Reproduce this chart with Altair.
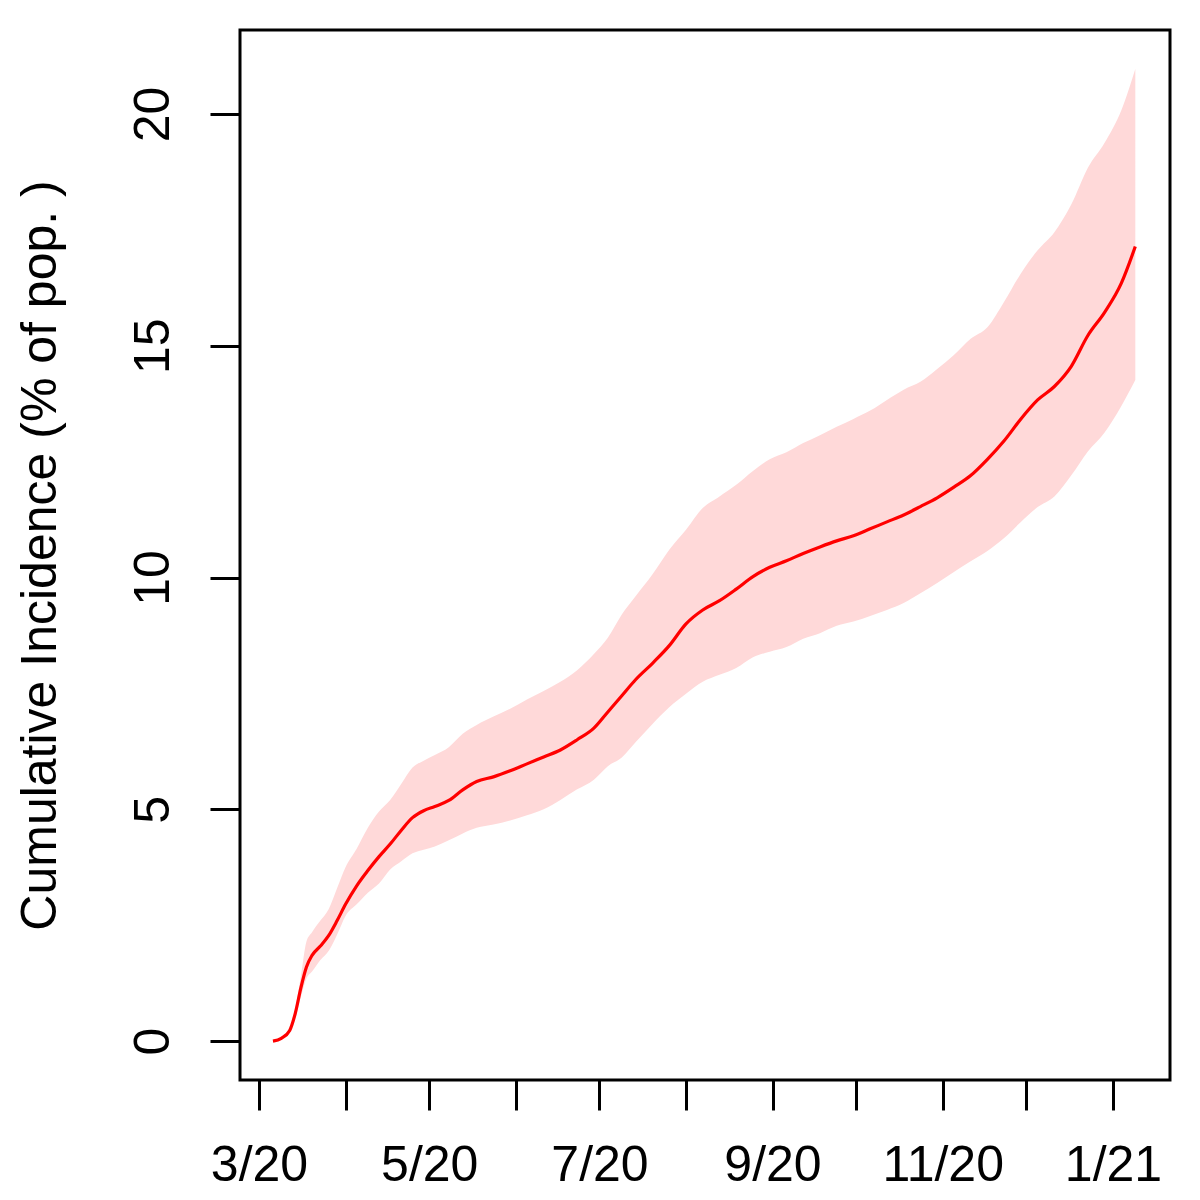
import altair as alt
import pandas as pd

# days since 2020-03-01
days = [5, 8, 11, 13, 15, 17, 19, 22, 25, 28, 31, 35, 39, 43, 47, 51, 55, 59, 63, 68,
        73, 78, 84, 90, 96, 102, 108, 114, 120, 125, 130, 135, 141, 147, 153, 159, 165,
        171, 177, 183, 189, 195, 201, 207, 213, 219, 225, 231, 237, 243, 249, 255, 261,
        267, 273, 279, 285, 291, 297, 303, 309, 314]
mean = [0.0, 0.06, 0.23, 0.6, 1.15, 1.6, 1.85, 2.05, 2.28, 2.6, 2.95, 3.35, 3.68, 3.98,
        4.25, 4.55, 4.82, 4.97, 5.06, 5.19, 5.42, 5.6, 5.7, 5.83, 5.98, 6.13, 6.28, 6.5,
        6.75, 7.1, 7.45, 7.8, 8.15, 8.53, 9.0, 9.3, 9.5, 9.75, 10.02, 10.22, 10.36, 10.52,
        10.66, 10.79, 10.9, 11.05, 11.2, 11.35, 11.53, 11.72, 11.95, 12.2, 12.55, 12.95,
        13.42, 13.83, 14.12, 14.55, 15.22, 15.72, 16.35, 17.14]
lower = [0.0, 0.05, 0.2, 0.5, 0.95, 1.35, 1.5, 1.75, 1.95, 2.3, 2.7, 2.95, 3.2, 3.4,
         3.7, 3.88, 4.05, 4.13, 4.2, 4.33, 4.48, 4.6, 4.67, 4.76, 4.87, 5.0, 5.2, 5.43,
         5.64, 5.93, 6.12, 6.45, 6.84, 7.2, 7.49, 7.75, 7.9, 8.05, 8.28, 8.4, 8.5, 8.68,
         8.8, 8.96, 9.05, 9.17, 9.3, 9.45, 9.66, 9.88, 10.12, 10.35, 10.57, 10.85, 11.2,
         11.52, 11.75, 12.2, 12.72, 13.13, 13.7, 14.26]
upper = [0.0, 0.08, 0.27, 0.7, 1.4, 2.15, 2.35, 2.6, 2.85, 3.3, 3.75, 4.15, 4.6, 4.95,
         5.2, 5.55, 5.9, 6.05, 6.17, 6.34, 6.63, 6.82, 7.0, 7.17, 7.37, 7.55, 7.75, 8.0,
         8.35, 8.7, 9.2, 9.6, 10.07, 10.6, 11.03, 11.5, 11.75, 12.0, 12.3, 12.55, 12.7,
         12.9, 13.07, 13.25, 13.42, 13.6, 13.83, 14.05, 14.22, 14.5, 14.8, 15.15, 15.4,
         15.95, 16.56, 17.06, 17.45, 18.04, 18.84, 19.38, 20.08, 20.97]

tick_days = [0, 31, 61, 92, 122, 153, 184, 214, 245, 275, 306]
tick_labels = ["3/20", "", "5/20", "", "7/20", "", "9/20", "", "11/20", "", "1/21"]
y_ticks = [0, 5, 10, 15, 20]

df = pd.DataFrame({"day": days, "mean": mean, "lower": lower, "upper": upper})

label_map = "{" + ",".join(f"'{d}':'{l}'" for d, l in zip(tick_days, tick_labels)) + "}"
label_expr = f"{label_map}[''+datum.value]"

FONT = "Liberation Sans"

x_enc = alt.X(
    "day:Q",
    scale=alt.Scale(domain=[-6.81, 326.43], nice=False, zero=False),
    axis=alt.Axis(
        values=tick_days, labelExpr=label_expr, title=None, grid=False, domain=False,
        tickSize=30, tickWidth=3, tickColor="black",
        labelFont=FONT, labelFontSize=50, labelColor="black",
        labelAngle=0, labelAlign="center", labelBaseline="alphabetic",
        labelPadding=70, labelFlush=False, labelOverlap=False, labelBound=False,
    ),
)
y_scale = alt.Scale(domain=[-0.839, 21.81], nice=False, zero=False)
y_axis = alt.Axis(
    values=y_ticks, format="d", grid=False, domain=False,
    tickSize=30, tickWidth=3, tickColor="black",
    labelFont=FONT, labelFontSize=50, labelColor="black",
    labelAngle=270, labelAlign="center", labelBaseline="alphabetic",
    labelPadding=42, labelFlush=False, labelOverlap=False, labelBound=False,
    title="Cumulative Incidence (% of pop. )",
    titleFont=FONT, titleFontSize=50, titleFontWeight="normal", titleColor="black",
    titleAngle=270, titleAlign="center", titleBaseline="alphabetic",
    titleX=-185, titleY=525,
)

band = alt.Chart(df).mark_area(color="#FFD9D9", interpolate="monotone").encode(
    x=x_enc,
    y=alt.Y("lower:Q", scale=y_scale, axis=y_axis),
    y2="upper:Q",
)
line = alt.Chart(df).mark_line(color="#FF0000", strokeWidth=3.2, interpolate="monotone").encode(
    x=x_enc,
    y=alt.Y("mean:Q", scale=y_scale, axis=y_axis),
)

chart = (
    alt.layer(band, line)
    .properties(
        width=930, height=1050,
        autosize=alt.AutoSizeParams(type="none"),
        padding={"left": 232, "top": 22, "right": 20, "bottom": 112},
        background="white",
    )
    .configure_view(stroke="black", strokeWidth=3)
)

chart.save("out.html", embed_options={"renderer": "svg", "actions": False})
